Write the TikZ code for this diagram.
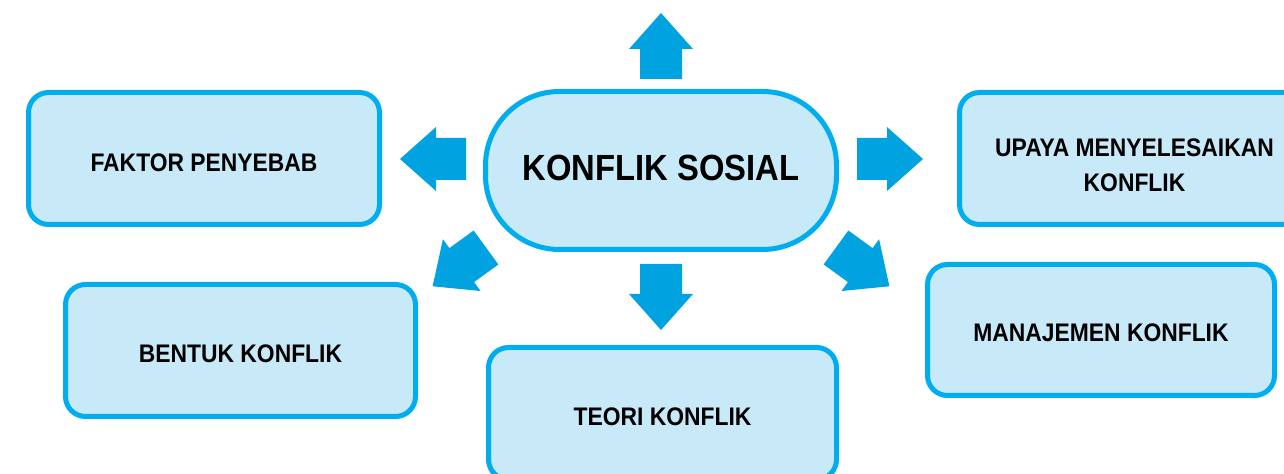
\documentclass[tikz,border=0pt]{standalone}
\usepackage{fontspec}
\setmainfont{Liberation Sans}[FakeStretch=0.9]
\usepackage{tikz}
\definecolor{rim}{RGB}{0,174,239}
\definecolor{pale}{RGB}{199,233,248}
\definecolor{pointer}{RGB}{0,162,223}
\tikzset{topic/.style={draw=rim, fill=pale, line width=2.5pt, rounded corners=10pt, align=center, font=\fontsize{12.7}{17.5}\selectfont\bfseries}}
\def\blockarrow(#1)(#2){\fill[pointer, shift={(#1)}, rotate=#2] (0,-21) -- (30,-21) -- (30,-32) -- (66,0) -- (30,32) -- (30,21) -- (0,21) -- cycle;}

\begin{document}
\begin{tikzpicture}[x=0.5pt, y=-0.5pt]
				\useasboundingbox (0,0) rectangle (1284,474);
				
				\node[topic, rounded corners=37pt, minimum width=175.5pt, minimum height=79pt, text height=13pt, text depth=3pt, font=\fontsize{18.2}{22}\selectfont\bfseries] (core) at (661,170.5) {KONFLIK SOSIAL};
				
				\node[topic, minimum width=175.5pt, minimum height=66pt, text height=12.6pt, text depth=0pt] (faktor) at (204,158.5) {FAKTOR PENYEBAB};
				\node[topic, minimum width=175pt, minimum height=66pt, text height=11.6pt, text depth=0pt] (bentuk) at (240.5,350.5) {BENTUK KONFLIK};
				\node[topic, minimum width=174pt, minimum height=66pt, text height=11.6pt, text depth=0pt] (teori) at (662.5,413.5) {TEORI KONFLIK};
				\node[topic, minimum width=175pt, minimum height=66pt] (upaya) at (1134.5,158.5) {\rule{0pt}{16.1pt}UPAYA MENYELESAIKAN\\KONFLIK};
				\node[topic, minimum width=173.5pt, minimum height=65.5pt, text height=11.1pt, text depth=0pt] (manajemen) at (1101,330) {MANAJEMEN KONFLIK};
				
				\blockarrow(661,79)(90);
				\blockarrow(466,159)(180);
				\blockarrow(857,159)(0);
				\blockarrow(486,247.5)(216);
				\blockarrow(836,247.5)(-36);
				\blockarrow(661,264)(270);
			\end{tikzpicture}
\end{document}
